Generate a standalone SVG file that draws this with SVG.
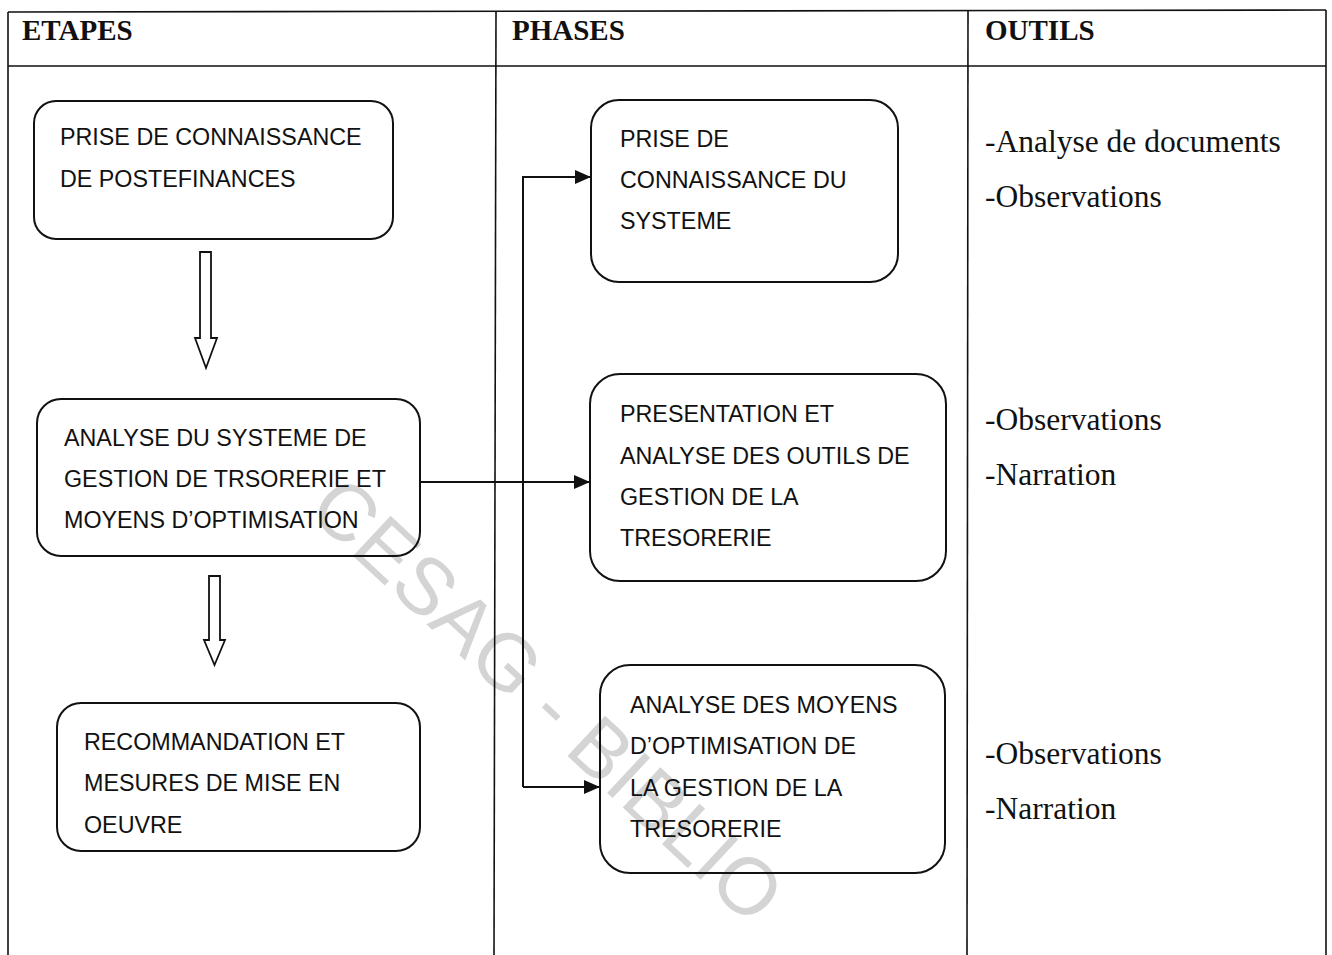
<svg xmlns="http://www.w3.org/2000/svg" width="1332" height="955" viewBox="0 0 1332 955">
<style>
.tbl{stroke:#111;stroke-width:1.6;fill:none}
.box{fill:none;stroke:#111;stroke-width:2}
.bt{font-family:"Liberation Sans",Arial,sans-serif;font-size:23.3px;fill:#111}
.hd{font-family:"Liberation Serif","Times New Roman",serif;font-size:29px;font-weight:bold;fill:#111}
.ot{font-family:"Liberation Serif","Times New Roman",serif;font-size:31.5px;fill:#111}
.con{fill:none;stroke:#111;stroke-width:2}
.hollow{fill:#fff;stroke:#111;stroke-width:1.8}
.wm{font-family:"Liberation Sans",Arial,sans-serif;font-size:80px;fill:#d4d4d4}
</style>
<defs>
<marker id="ah" markerUnits="userSpaceOnUse" viewBox="0 0 16 14" markerWidth="16" markerHeight="14" refX="16" refY="7" orient="auto">
<path d="M0,0 L16,7 L0,14 z" fill="#111"/>
</marker>
</defs>
<rect width="1332" height="955" fill="#fff"/>
<g id="watermark">
<text class="wm" x="306" y="512" transform="rotate(43 306 512)">CESAG - BIBLIO</text>
</g>
<g id="table">
<line class="tbl" x1="8" y1="12" x2="1326" y2="10"/>
<line class="tbl" x1="8" y1="66" x2="1326" y2="66"/>
<line class="tbl" x1="8" y1="12" x2="8" y2="955"/>
<line class="tbl" x1="496" y1="11" x2="494" y2="955"/>
<line class="tbl" x1="968" y1="10" x2="967" y2="955"/>
<line class="tbl" x1="1326" y1="10" x2="1326" y2="955"/>
<text class="hd" x="22" y="40">ETAPES</text>
<text class="hd" x="512" y="40">PHASES</text>
<text class="hd" x="985" y="40">OUTILS</text>
</g>
<g id="etape1">
<rect class="box" x="34" y="101" width="359" height="138" rx="22"/>
<text class="bt" x="60" y="145">PRISE DE CONNAISSANCE</text>
<text class="bt" x="60" y="187">DE POSTEFINANCES</text>
</g>
<g id="etape2">
<rect class="box" x="37" y="399" width="383" height="157" rx="24"/>
<text class="bt" x="64" y="446">ANALYSE DU SYSTEME DE</text>
<text class="bt" x="64" y="487">GESTION DE TRSORERIE ET</text>
<text class="bt" x="64" y="528">MOYENS D’OPTIMISATION</text>
</g>
<g id="etape3">
<rect class="box" x="57" y="703" width="363" height="148" rx="24"/>
<text class="bt" x="84" y="750">RECOMMANDATION ET</text>
<text class="bt" x="84" y="791">MESURES DE MISE EN</text>
<text class="bt" x="84" y="833">OEUVRE</text>
</g>
<g id="phase1">
<rect class="box" x="591" y="100" width="307" height="182" rx="28"/>
<text class="bt" x="620" y="147">PRISE DE</text>
<text class="bt" x="620" y="188">CONNAISSANCE DU</text>
<text class="bt" x="620" y="229">SYSTEME</text>
</g>
<g id="phase2">
<rect class="box" x="590" y="374" width="356" height="207" rx="30"/>
<text class="bt" x="620" y="422">PRESENTATION ET</text>
<text class="bt" x="620" y="464">ANALYSE DES OUTILS DE</text>
<text class="bt" x="620" y="505">GESTION DE LA</text>
<text class="bt" x="620" y="546">TRESORERIE</text>
</g>
<g id="phase3">
<rect class="box" x="600" y="665" width="345" height="208" rx="30"/>
<text class="bt" x="630" y="713">ANALYSE DES MOYENS</text>
<text class="bt" x="630" y="754">D’OPTIMISATION  DE</text>
<text class="bt" x="630" y="796">LA GESTION DE LA</text>
<text class="bt" x="630" y="837">TRESORERIE</text>
</g>
<g id="outils1">
<text class="ot" x="985" y="152">-Analyse de documents</text>
<text class="ot" x="985" y="207">-Observations</text>
</g>
<g id="outils2">
<text class="ot" x="985" y="430">-Observations</text>
<text class="ot" x="985" y="485">-Narration</text>
</g>
<g id="outils3">
<text class="ot" x="985" y="764">-Observations</text>
<text class="ot" x="985" y="819">-Narration</text>
</g>
<g id="connectors">
<polygon class="hollow" points="200,252 211,252 211,338 217,338 206,368 195,338 200,338"/>
<polygon class="hollow" points="209,576 220,576 220,640 225,640 214.5,665 204,640 209,640"/>
<path class="con" d="M420,482 H590" marker-end="url(#ah)"/>
<path class="con" d="M523,787 V177 H591" marker-end="url(#ah)"/>
<path class="con" d="M523,787 H600" marker-end="url(#ah)"/>
</g>
</svg>
